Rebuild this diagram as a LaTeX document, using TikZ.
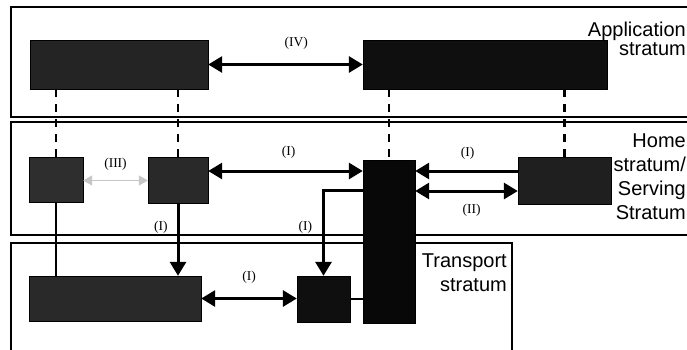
\documentclass[tikz,border=0pt]{standalone}
\usepackage{fontspec}
\setmainfont{Liberation Serif}
\setsansfont{Liberation Sans}
\usetikzlibrary{arrows.meta}

\begin{document}
\begin{tikzpicture}[x = 1pt, y = -1pt, > = {Triangle[length=14pt,width=16pt]},
stratum/.style={ rectangle, draw, line width = 1.3pt },
unit/.style={ rectangle, draw = black, fill = #1, inner sep = 0pt },
link/.style={ line width = 3pt },
dashlink/.style={ line width = 2.5pt, dash pattern = on 8pt off 7pt },
rnum/.style={ font = \fontsize{13.5}{15}\selectfont, inner sep = 0pt },
stratlabel/.style={ font = \sffamily\fontsize{20}{24}\selectfont, align = right, anchor = north east, inner sep = 0pt }]

\useasboundingbox (0,0) rectangle (687,349);
\clip (0,0) rectangle (687,349);

%strata frames
\draw [stratum] (11,7) rectangle (700,117);
\draw [stratum] (11,122) rectangle (700,235);
\draw [stratum] (11,243) rectangle (512,360);

\node (appname) [stratlabel, font = \sffamily\fontsize{20}{19}\selectfont] at (686,21.5) {Application\\stratum};
\node (homename) [stratlabel] at (686,134) {Home\\stratum/\\Serving\\Stratum};
\node (transname) [stratlabel] at (507,254) {Transport\\stratum};

%application stratum
\node (appL) [unit = black!86, minimum width = 178pt, minimum height = 49pt] at (119,64.5) {};
\node (appR) [unit = black!94, minimum width = 244pt, minimum height = 49pt] at (485,64.5) {};

%home stratum
\node (homeA) [unit = black!82, minimum width = 54pt, minimum height = 45pt] at (56,179.5) {};
\node (homeB) [unit = black!84, minimum width = 60pt, minimum height = 46pt] at (178,180) {};
\node (tall) [unit = black!97, minimum width = 52pt, minimum height = 163pt] at (389,241.5) {};
\node (homeR) [unit = black!88, minimum width = 93pt, minimum height = 47pt] at (564.5,180.5) {};

%transport stratum
\node (transL) [unit = black!84, minimum width = 172pt, minimum height = 45pt] at (115,298.5) {};
\node (transS) [unit = black!94, minimum width = 53pt, minimum height = 46pt] at (323.5,299) {};

%vertical dashed links
\draw [dashlink] (appL.south -| homeA.north) -- (homeA.north);
\draw [dashlink] (appL.south -| homeB.north) -- (homeB.north);
\draw [dashlink] (appR.south -| tall.north) -- (tall.north);
\draw [dashlink] (appR.south -| homeR.north) -- (homeR.north);

%interfaces
\draw [link, <->] (appL.east) -- (appR.west) node [rnum, pos = 0.57, above = 14pt] (lIV) {(IV)};
\draw [link, <->] ([yshift = 9pt]homeB.east) -- ([yshift = 9pt]homeB.east -| tall.west) node [rnum, pos = 0.52, above = 11pt] (lIa) {(I)};
\draw [link, ->] ([yshift = 9.5pt]homeR.west) -- ([yshift = 9.5pt]homeR.west -| tall.east) node [rnum, pos = 0.49, above = 10pt] (lIb) {(I)};
\draw [link, <->] ([yshift = -10.5pt]homeR.west) -- ([yshift = -10.5pt]homeR.west -| tall.east) node [rnum, pos = 0.45, below = 12pt] (lII) {(II)};
\draw [<->, gray!45, line width = 1.5pt, > = {Triangle[length=9pt,width=10pt]}] ([yshift = -1pt]homeA.east) -- ([yshift = -1pt]homeA.east -| homeB.west) node [rnum, black, pos = 0.5, above = 9pt] (lIII) {(III)};
\draw [line width = 2.2pt] (homeA.south) -- (homeA.south |- transL.north);
\draw [link, ->] (homeB.south) -- (homeB.south |- transL.north) node [rnum, pos = 0.33, left = 9pt] (lIc) {(I)};
\draw [link, ->] ([yshift = 51.5pt]tall.west) -| (transS.north) node [rnum, pos = 0.715, left = 10pt] (lId) {(I)};
\draw [link, <->] (transL.east) -- (transL.east -| transS.west) node [rnum, pos = 0.5, above = 14pt] (lIe) {(I)};
\draw [line width = 2.5pt] (transS.east) -- (transS.east -| tall.west);

\end{tikzpicture}
\end{document}
